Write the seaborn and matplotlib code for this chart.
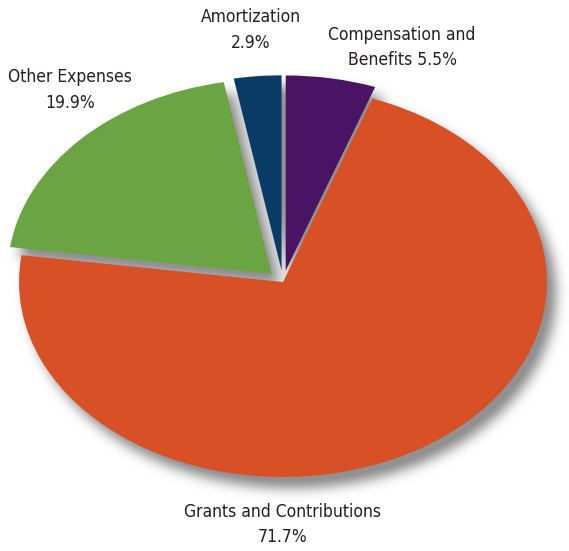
import numpy as np
import matplotlib
matplotlib.use("Agg")
import matplotlib.pyplot as plt
from matplotlib import font_manager as fm
import seaborn as sns

# Expense breakdown (percent of total)
categories = ["Compensation and Benefits", "Grants and Contributions",
              "Other Expenses", "Amortization"]
shares = [5.5, 71.7, 19.9, 2.9]
label_texts = ["Compensation and\nBenefits 5.5%", "Grants and Contributions\n71.7%",
               "Other Expenses\n19.9%", "Amortization\n2.9%"]
colors = ["#4A1464", "#D85026", "#6BA543", "#0A3A66"]
explode = [0.06, 0.0, 0.06, 0.06]

sns.set_theme(style="white")

# Pick a narrow sans face for the labels
fonts = fm.fontManager.ttflist
if any(f.name == "Liberation Sans Narrow" for f in fonts):
    label_font = dict(family=["Liberation Sans Narrow", "DejaVu Sans"], fontstretch="normal")
elif any(f.name == "DejaVu Sans" and f.stretch == "condensed" for f in fonts):
    label_font = dict(family=["DejaVu Sans"], fontstretch="condensed")
else:
    label_font = dict(family=["Liberation Sans", "DejaVu Sans"], fontstretch="normal")
plt.rcParams["font.family"] = label_font["family"]

W, H = 569, 551
fig = plt.figure(figsize=(W / 100, H / 100), dpi=100)
ax = fig.add_axes([0, 0, 1, 1])

wedges, _ = ax.pie(shares, colors=colors, startangle=90, counterclock=False,
                   explode=explode, radius=1.0,
                   wedgeprops=dict(linewidth=0, zorder=3))

# Flatten the pie into an ellipse: pixel scale differs between x and y
cx, cy = 283, 269          # pie centre in pixels (from bottom-left)
rx, ry = 264, 195          # pixels per unit radius
ax.set_aspect("auto")
xlim = (-cx / rx, (W - cx) / rx)
ylim = (-cy / ry, (H - cy) / ry)
ax.set_xlim(*xlim)
ax.set_ylim(*ylim)
ax.axis("off")

# Soft drop shadow built from the wedge geometry
xs = xlim[0] + (np.arange(W) + 0.5) / rx
ys = ylim[1] - (np.arange(H) + 0.5) / ry
X, Y = np.meshgrid(xs, ys)
off_x, off_y = 9 / rx, -11 / ry
mask = np.zeros_like(X)
for w in wedges:
    px = X - w.center[0] - off_x
    py = Y - w.center[1] - off_y
    r = np.hypot(px, py)
    ang = np.degrees(np.arctan2(py, px))
    inside = ((ang - w.theta1) % 360) <= (w.theta2 - w.theta1)
    mask = np.maximum(mask, ((r <= w.r) & inside).astype(float))

sigma = 6.0
k = np.arange(-20, 21)
kernel = np.exp(-0.5 * (k / sigma) ** 2)
kernel /= kernel.sum()
blur = np.apply_along_axis(lambda v: np.convolve(v, kernel, mode="same"), 1, mask)
blur = np.apply_along_axis(lambda v: np.convolve(v, kernel, mode="same"), 0, blur)

shadow = np.zeros((H, W, 4))
shadow[..., :3] = 0.57
shadow[..., 3] = np.clip(blur * 1.1, 0, 1)
ax.imshow(shadow, extent=(xlim[0], xlim[1], ylim[0], ylim[1]),
          aspect="auto", zorder=1, interpolation="bilinear")

# Category labels
label_pos = {
    "Compensation and Benefits": (402, 47.5),
    "Grants and Contributions": (283, 524.5),
    "Other Expenses": (70, 90),
    "Amortization": (251, 30),
}
for cat, txt in zip(categories, label_texts):
    x, y = label_pos[cat]
    fig.text(x / W, 1 - y / H, txt, ha="center", va="center",
             multialignment="center", fontsize=12.5, color="#231F20",
             linespacing=1.5, fontstretch=label_font["fontstretch"])

fig.savefig("out.png", dpi=100, facecolor="white")
